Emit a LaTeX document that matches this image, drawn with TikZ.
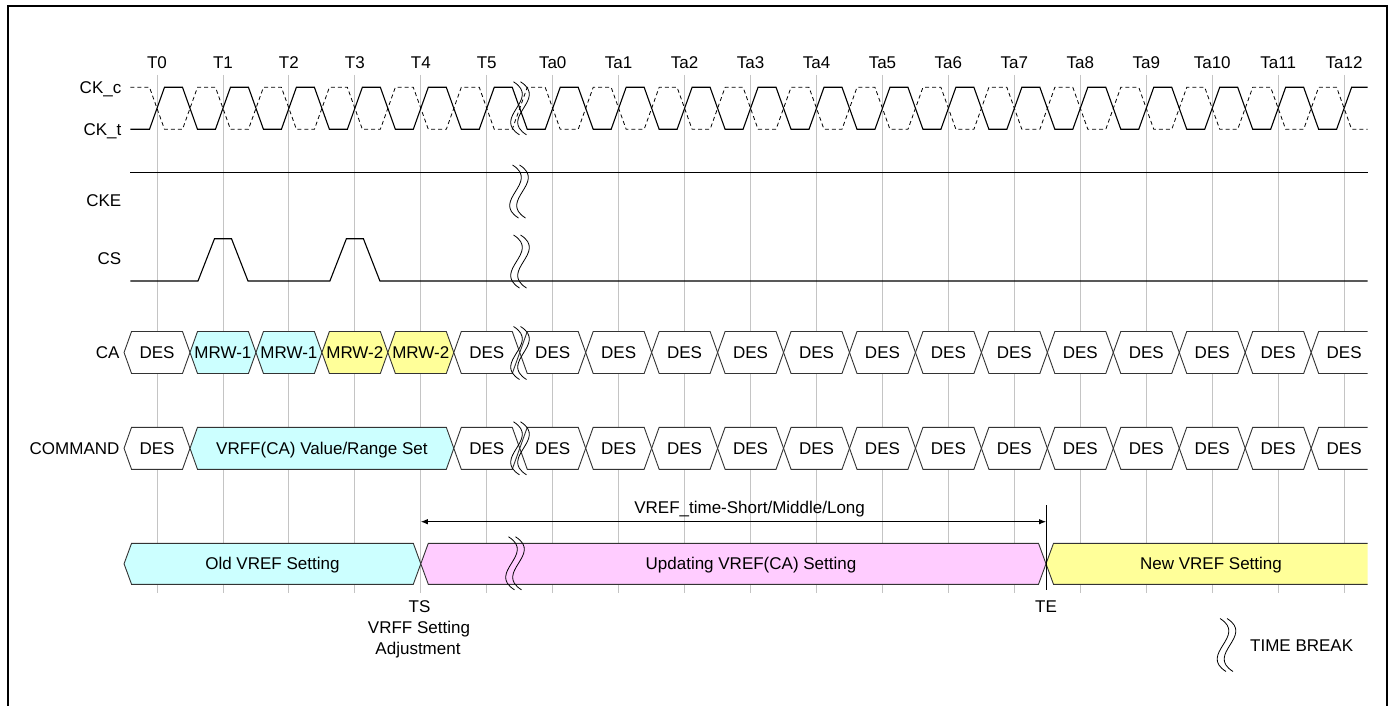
\documentclass[tikz,border=0pt]{standalone}
\usepackage{fontspec}
\setmainfont{Liberation Sans}
\usetikzlibrary{arrows.meta}
\definecolor{cyanfill}{HTML}{CCFFFF}
\definecolor{yelfill}{HTML}{FFFF99}
\definecolor{pinkfill}{HTML}{FFCCFF}
\definecolor{gridgray}{HTML}{C4C4C4}
\definecolor{boxedge}{HTML}{333333}
\newcommand\hexbox[5]{%
  \path[boxline,fill=#5] ({#1},{(#3+#4)/2}) -- ({#1+7.5},#3) -- ({#2-7.5},#3) -- ({#2},{(#3+#4)/2}) -- ({#2-7.5},#4) -- ({#1+7.5},#4) -- cycle;}
\newcommand\openbox[4]{%
  \path[fill=#4] ({#1},{(#2+#3)/2}) -- ({#1+7.5},#2) -- (1367.7,#2) -- (1367.7,#3) -- ({#1+7.5},#3) -- cycle;
  \draw[boxline] (1367.7,#2) -- ({#1+7.5},#2) -- ({#1},{(#2+#3)/2}) -- ({#1+7.5},#3) -- (1367.7,#3);}
\begin{document}
\begin{tikzpicture}[x=1pt,y=-1pt,
  every node/.style={font=\fontsize{17}{20}\selectfont, inner sep=0pt, text height=12.2pt, text depth=0pt},
  sig/.style={line width=1.1pt, black},
  boxline/.style={draw=boxedge, line width=0.9pt},
  gridln/.style={draw=gridgray, line width=0.9pt},
  rowlbl/.style={anchor=east},
  tbreak/.pic={
    \draw[line width=0.8pt] (-6.5,-26.5) .. controls (21.5,-9) and (-28.5,9) .. (-0.5,26.5);
    \draw[line width=0.8pt] (0.5,-26.5) .. controls (28.5,-9) and (-21.5,9) .. (6.5,26.5);
  }]
\useasboundingbox (0,0) rectangle (1394,706);
% frame
\draw[line width=2pt] (7.5,706) -- (7.5,6) -- (1386.7,6) -- (1386.7,706);
% grid
\foreach \i in {0,...,18} \draw[gridln] ({157+65.95*\i},75) -- ({157+65.95*\i},593.3);
% time labels
\foreach \i/\t in {0/T0,1/T1,2/T2,3/T3,4/T4,5/T5,6/Ta0,7/Ta1,8/Ta2,9/Ta3,10/Ta4,11/Ta5,12/Ta6,13/Ta7,14/Ta8,15/Ta9,16/Ta10,17/Ta11,18/Ta12}
  \node (lab\t) at ({157+65.95*\i},62.7) {\t};
% row labels
\node[rowlbl] (lckc) at (121.5,87.3) {CK\_c};
\node[rowlbl] (lckt) at (121.5,129.3) {CK\_t};
\node[rowlbl] (lcke) at (121.5,200) {CKE};
\node[rowlbl] (lcs) at (121.5,258.3) {CS};
\node[rowlbl] (lca) at (119.6,352.5) {CA};
\node[rowlbl] (lcmd) at (119.6,448.3) {COMMAND};
% clocks
\draw[sig] (130.4,129.3) \foreach \i in {0,...,17} { -- ({157+65.95*\i-7.5},129.3) -- ({157+65.95*\i+7.5},87.3) -- ({157+65.95*\i+33-7.5},87.3) -- ({157+65.95*\i+33+7.5},129.3) } -- (1336.6,129.3) -- (1351.6,87.3) -- (1367.7,87.3);
\draw[sig,line width=0.8pt,dash pattern=on 4pt off 3pt] (130.4,87.3) \foreach \i in {0,...,17} { -- ({157+65.95*\i-7.5},87.3) -- ({157+65.95*\i+7.5},129.3) -- ({157+65.95*\i+33-7.5},129.3) -- ({157+65.95*\i+33+7.5},87.3) } -- (1336.6,87.3) -- (1351.6,129.3) -- (1367.7,129.3);
% CKE
\draw[sig] (130.4,172.7) -- (1367.7,172.7);
% CS
\draw[sig] (130.4,281) -- (198,281) -- (214.5,238.7) -- (231.5,238.7) -- (248,281) -- (329.9,281) -- (346.4,238.7) -- (363.4,238.7) -- (379.9,281) -- (1367.7,281);
% CA row
\foreach \k/\f/\t in {0/white/DES,1/cyanfill/MRW-1,2/cyanfill/MRW-1,3/yelfill/MRW-2,4/yelfill/MRW-2,5/white/DES,6/white/DES,7/white/DES,8/white/DES,9/white/DES,10/white/DES,11/white/DES,12/white/DES,13/white/DES,14/white/DES,15/white/DES,16/white/DES,17/white/DES} {
  \hexbox{124.05+65.95*\k}{190+65.95*\k}{331.5}{373.5}{\f}
  \node (ca\k) at ({157+65.95*\k},352.5) {\t};
}
\openbox{1311.15}{331.5}{373.5}{white}
\node (ca18) at (1344.1,352.5) {DES};
% COMMAND row
\hexbox{124.05}{190}{427.3}{469.3}{white}
\node (cmd0) at (157,448.3) {DES};
\hexbox{190}{453.8}{427.3}{469.3}{cyanfill}
\node (cmd1) at (321.9,448.3) {VRFF(CA) Value/Range Set};
\foreach \k in {5,...,17} {
  \hexbox{124.05+65.95*\k}{190+65.95*\k}{427.3}{469.3}{white}
  \node (cmd\k) at ({157+65.95*\k},448.3) {DES};
}
\openbox{1311.15}{427.3}{469.3}{white}
\node (cmd18) at (1344.1,448.3) {DES};
% VREF row
\hexbox{124.05}{420.8}{543.3}{584.3}{cyanfill}
\node (old) at (272.4,563.8) {Old VREF Setting};
\hexbox{420.8}{1046}{543.3}{584.3}{pinkfill}
\node (upd) at (751,563.8) {Updating VREF(CA) Setting};
\openbox{1046}{543.3}{584.3}{yelfill}
\node (new) at (1211,563.8) {New VREF Setting};
% time breaks
\pic at (520,108.3) {tbreak};
\pic at (519,191.5) {tbreak};
\pic at (520,261.5) {tbreak};
\pic at (520,353) {tbreak};
\pic at (520,448.3) {tbreak};
\pic at (515,563.3) {tbreak};
% VREF time arrow
\coordinate (tsA) at (420.8,521.7);
\coordinate (teA) at (1046,521.7);
\coordinate (teTop) at (1046,505);
\coordinate (teBot) at (1046,590);
\draw[line width=0.9pt] (teTop) -- (teBot);
\draw[line width=0.9pt,{Latex[length=7pt,width=5.5pt]}-{Latex[length=7pt,width=5.5pt]}] (tsA) -- (teA);
\node (vtime) at (749.6,507.3) {VREF\_time-Short/Middle/Long};
% TS / TE labels
\node (ts1) at (419.6,606) {TS};
\node (ts2) at (419,627.5) {VRFF Setting};
\node (ts3) at (418,648.5) {Adjustment};
\node (te) at (1046,606.7) {TE};
% legend
\pic at (1226.5,645) {tbreak};
\node[anchor=west] (legend) at (1250,645.7) {TIME BREAK};
\end{tikzpicture}
\end{document}
